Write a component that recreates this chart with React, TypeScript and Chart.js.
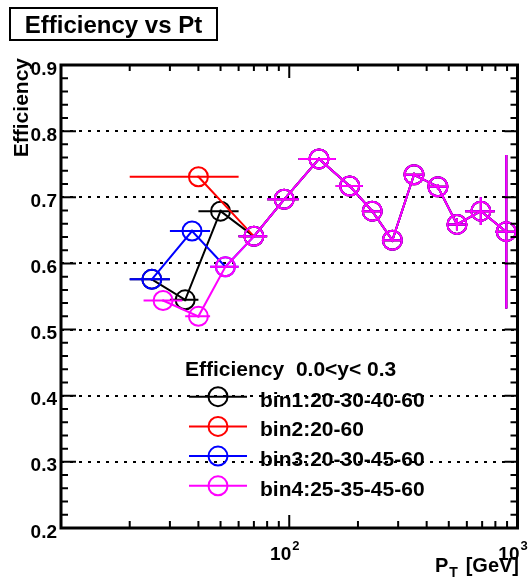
import React, { useEffect, useRef } from "react";
import { Chart, registerables } from "chart.js";

Chart.register(...registerables);

// ---------- axis ranges & tick labels ----------
const X_MIN = 10;
const X_MAX = 1000;
const Y_MIN = 0.2;
const Y_MAX = 0.9;
const yTickValues = [0.2, 0.3, 0.4, 0.5, 0.6, 0.7, 0.8, 0.9];
const yTickLabels = ["0.2", "0.3", "0.4", "0.5", "0.6", "0.7", "0.8", "0.9"];
const yGridValues = [0.3, 0.4, 0.5, 0.6, 0.7, 0.8];
const xMajorTicks = [100, 1000];
const xMajorBase = ["10", "10"];
const xMajorExp = ["2", "3"];
const xMinorTicks = [20, 30, 40, 50, 60, 70, 80, 90, 200, 300, 400, 500, 600, 700, 800, 900];

// ---------- texts ----------
const plotTitle = "Efficiency vs Pt";
const yAxisTitle = "Efficiency";
const xAxisTitleMain = "P";
const xAxisTitleSub = "T";
const xAxisTitleUnit = "[GeV]";
const legendTitle = "Efficiency  0.0<y< 0.3";
const seriesNames = ["bin1:20-30-40-60", "bin2:20-60", "bin3:20-30-45-60", "bin4:25-35-45-60"];
const seriesColors = ["#000000", "#ff0000", "#0000ff", "#ff00ff"];

// ---------- data: low-pt points (differ per binning) ----------
const bin1X = [25, 35, 50];
const bin1Y = [0.576, 0.545, 0.679];
const bin1XLo = [20, 30, 40];
const bin1XHi = [30, 40, 60];
const bin1YErr = [0.002, 0.002, 0.002];

const bin2X = [40];
const bin2Y = [0.731];
const bin2XLo = [20];
const bin2XHi = [60];
const bin2YErr = [0.002];

const bin3X = [25, 37.5, 52.5];
const bin3Y = [0.576, 0.649, 0.595];
const bin3XLo = [20, 30, 45];
const bin3XHi = [30, 45, 60];
const bin3YErr = [0.002, 0.002, 0.002];

const bin4X = [28, 40, 52.5];
const bin4Y = [0.544, 0.52, 0.595];
const bin4XLo = [23, 35, 45];
const bin4XHi = [34, 45, 60];
const bin4YErr = [0.002, 0.002, 0.002];

// ---------- data: high-pt points (shared by all binnings) ----------
const highX = [70, 95, 135, 184, 231, 283, 352, 448, 543, 691, 893];
const highY = [0.641, 0.697, 0.758, 0.717, 0.679, 0.635, 0.734, 0.716, 0.659, 0.679, 0.648];
const highXLo = [60, 80, 110, 160, 210, 255, 320, 410, 500, 590, 800];
const highXHi = [80, 110, 160, 210, 255, 310, 385, 490, 590, 795, 1000];
const highYErr = [0.002, 0.002, 0.002, 0.002, 0.002, 0.002, 0.003, 0.004, 0.009, 0.021, 0.116];

type Series = { x: number[]; y: number[]; xlo: number[]; xhi: number[]; yerr: number[] };

const series: Series[] = [
  { x: bin1X, y: bin1Y, xlo: bin1XLo, xhi: bin1XHi, yerr: bin1YErr },
  { x: bin2X, y: bin2Y, xlo: bin2XLo, xhi: bin2XHi, yerr: bin2YErr },
  { x: bin3X, y: bin3Y, xlo: bin3XLo, xhi: bin3XHi, yerr: bin3YErr },
  { x: bin4X, y: bin4Y, xlo: bin4XLo, xhi: bin4XHi, yerr: bin4YErr },
].map((s) => ({
  x: [...s.x, ...highX],
  y: [...s.y, ...highY],
  xlo: [...s.xlo, ...highXLo],
  xhi: [...s.xhi, ...highXHi],
  yerr: [...s.yerr, ...highYErr],
}));

const FONT = "'Liberation Sans', Arial, Helvetica, sans-serif";
const MARKER_R = 9.5;

const rootPlugin = {
  id: "rootStyle",
  beforeDatasetsDraw(chart: any) {
    const ctx = chart.ctx as CanvasRenderingContext2D;
    const { left, right } = chart.chartArea;
    const ys = chart.scales.y;
    ctx.save();
    ctx.strokeStyle = "#000";
    ctx.lineWidth = 2;
    ctx.setLineDash([3, 6]);
    for (const v of yGridValues) {
      const py = Math.round(ys.getPixelForValue(v));
      ctx.beginPath();
      ctx.moveTo(left, py);
      ctx.lineTo(right, py);
      ctx.stroke();
    }
    ctx.restore();
  },
  beforeDatasetDraw(chart: any, args: any) {
    const s = series[args.index];
    if (!s) return;
    const ctx = chart.ctx as CanvasRenderingContext2D;
    const xs = chart.scales.x;
    const ys = chart.scales.y;
    ctx.save();
    ctx.strokeStyle = seriesColors[args.index];
    ctx.lineWidth = 2;
    for (let i = 0; i < s.x.length; i++) {
      const px = xs.getPixelForValue(s.x[i]);
      const py = ys.getPixelForValue(s.y[i]);
      ctx.beginPath();
      ctx.moveTo(xs.getPixelForValue(s.xlo[i]), py);
      ctx.lineTo(xs.getPixelForValue(s.xhi[i]), py);
      ctx.moveTo(px, ys.getPixelForValue(s.y[i] - s.yerr[i]));
      ctx.lineTo(px, ys.getPixelForValue(s.y[i] + s.yerr[i]));
      ctx.stroke();
    }
    ctx.restore();
  },
  afterDatasetsDraw(chart: any) {
    const ctx = chart.ctx as CanvasRenderingContext2D;
    const { left, right, top, bottom } = chart.chartArea;
    const xs = chart.scales.x;
    const ys = chart.scales.y;
    ctx.save();
    ctx.strokeStyle = "#000";
    ctx.fillStyle = "#000";

    // ticks
    ctx.lineWidth = 2;
    ctx.beginPath();
    for (let k = 0; k <= 35; k++) {
      const v = Y_MIN + k * 0.02;
      const py = ys.getPixelForValue(v);
      const major = k % 5 === 0;
      const len = major ? 15 : 7;
      ctx.moveTo(left, py);
      ctx.lineTo(left + len, py);
      ctx.moveTo(right, py);
      ctx.lineTo(right - (major ? 13 : 7), py);
    }
    for (const v of xMinorTicks) {
      const px = xs.getPixelForValue(v);
      ctx.moveTo(px, bottom);
      ctx.lineTo(px, bottom - 7);
      ctx.moveTo(px, top);
      ctx.lineTo(px, top + 6);
    }
    for (const v of xMajorTicks) {
      const px = xs.getPixelForValue(v);
      ctx.moveTo(px, bottom);
      ctx.lineTo(px, bottom - 13);
      ctx.moveTo(px, top);
      ctx.lineTo(px, top + 13);
    }
    ctx.stroke();

    // frame
    ctx.lineWidth = 3;
    ctx.strokeRect(left, top, right - left, bottom - top);

    // y tick labels
    ctx.font = `bold 19px ${FONT}`;
    ctx.textAlign = "right";
    ctx.textBaseline = "alphabetic";
    yTickValues.forEach((v, i) => {
      const py = ys.getPixelForValue(v);
      ctx.fillText(yTickLabels[i], left - 4, py + 9.5);
    });

    // x labels 10^n
    xMajorTicks.forEach((v, i) => {
      const px = xs.getPixelForValue(v);
      ctx.font = `bold 19px ${FONT}`;
      ctx.textAlign = "right";
      ctx.fillText(xMajorBase[i], px + 2, 560);
      ctx.font = `bold 13px ${FONT}`;
      ctx.textAlign = "left";
      ctx.fillText(xMajorExp[i], px + 3, 550);
    });

    // x axis title
    ctx.font = `bold 20px ${FONT}`;
    ctx.textAlign = "left";
    ctx.fillText(xAxisTitleMain, 435, 572);
    const pw = ctx.measureText(xAxisTitleMain).width;
    ctx.font = `bold 14px ${FONT}`;
    ctx.fillText(xAxisTitleSub, 435 + pw + 1, 577);
    ctx.font = `bold 20px ${FONT}`;
    ctx.textAlign = "right";
    ctx.fillText(xAxisTitleUnit, 519, 572);

    // y axis title
    ctx.save();
    ctx.translate(22, 58);
    ctx.rotate(-Math.PI / 2);
    ctx.font = `bold 21px ${FONT}`;
    ctx.textAlign = "right";
    ctx.textBaseline = "middle";
    ctx.fillText(yAxisTitle, 0, 0);
    ctx.restore();

    // plot title box
    ctx.lineWidth = 2;
    ctx.strokeRect(10, 8, 207, 32);
    ctx.font = `bold 24px ${FONT}`;
    ctx.textAlign = "center";
    ctx.textBaseline = "alphabetic";
    ctx.fillText(plotTitle, 113.5, 32.5);

    // legend
    ctx.font = `bold 21px ${FONT}`;
    ctx.textAlign = "left";
    ctx.fillText(legendTitle, 185, 376);
    seriesNames.forEach((name, i) => {
      const cy = 396.7 + i * 29.7;
      ctx.strokeStyle = seriesColors[i];
      ctx.lineWidth = 2;
      ctx.beginPath();
      ctx.moveTo(189, cy);
      ctx.lineTo(247, cy);
      ctx.stroke();
      ctx.beginPath();
      ctx.arc(218, cy, MARKER_R, 0, Math.PI * 2);
      ctx.stroke();
      ctx.fillStyle = "#000";
      ctx.fillText(name, 260, cy + 10);
    });

    ctx.restore();
  },
};

export default function App() {
  const ref = useRef<HTMLCanvasElement | null>(null);

  useEffect(() => {
    document.body.style.margin = "0";
    const canvas = ref.current;
    if (!canvas) return;
    const datasets = series.map((s, i) => ({
      label: seriesNames[i],
      data: s.x.map((xv, j) => ({ x: xv, y: s.y[j] })),
      showLine: true,
      borderColor: seriesColors[i],
      backgroundColor: "rgba(0,0,0,0)",
      borderWidth: 2,
      pointRadius: MARKER_R,
      pointHoverRadius: MARKER_R,
      pointBorderWidth: 2,
      pointBorderColor: seriesColors[i],
      pointBackgroundColor: "rgba(0,0,0,0)",
      pointStyle: "circle",
      tension: 0,
      fill: false,
      order: 4 - i,
      clip: 12,
    }));
    const chart = new Chart(canvas, {
      type: "scatter",
      data: { datasets },
      options: {
        animation: false,
        responsive: false,
        devicePixelRatio: 1,
        events: [],
        layout: { padding: { left: 61, right: 11, top: 65, bottom: 50 } },
        scales: {
          x: { type: "logarithmic", min: X_MIN, max: X_MAX, display: false },
          y: { type: "linear", min: Y_MIN, max: Y_MAX, display: false },
        },
        plugins: {
          legend: { display: false },
          title: { display: false },
          tooltip: { enabled: false },
        },
      },
      plugins: [rootPlugin],
    } as any);
    return () => chart.destroy();
  }, []);

  return (
    <div style={{ width: 529, height: 578, background: "#fff" }}>
      <canvas ref={ref} width={529} height={578} style={{ display: "block" }} />
    </div>
  );
}
